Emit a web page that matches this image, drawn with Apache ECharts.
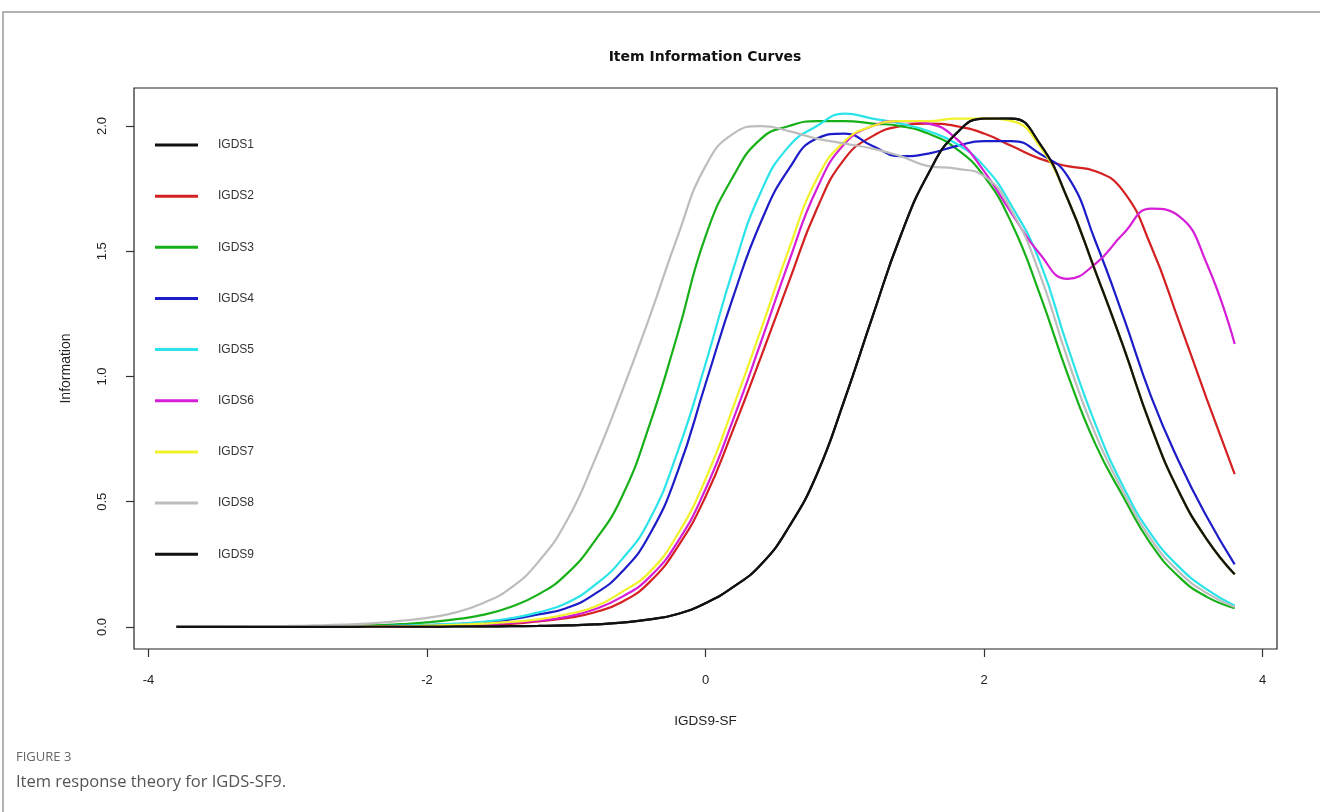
<!DOCTYPE html>
<html>
<head>
<meta charset="utf-8">
<script src="https://cdn.jsdelivr.net/npm/echarts@6/dist/echarts.min.js"></script>
<style>
html,body{margin:0;padding:0;background:#fff;}
#chart{width:1320px;height:812px;}
</style>
</head>
<body>
<div id="chart"></div>
<script>
// Theta grid (IGDS9-SF latent trait)
const theta = [-3.8,-3.6,-3.4,-3.2,-3.0,-2.8,-2.6,-2.4,-2.2,-2.0,-1.8,-1.6,-1.4,-1.2,-1.0,-0.8,-0.6,-0.4,-0.2,0.0,0.2,0.4,0.6,0.8,1.0,1.2,1.4,1.6,1.8,2.0,2.2,2.4,2.6,2.8,3.0,3.2,3.4,3.6,3.8];

const seriesNames = ["IGDS1","IGDS2","IGDS3","IGDS4","IGDS5","IGDS6","IGDS7","IGDS8","IGDS9"];

const igds1 = [0,0,0,0,0,0,0,0.001,0.001,0.001,0.002,0.002,0.003,0.004,0.006,0.010,0.017,0.030,0.052,0.095,0.16,0.25,0.40,0.61,0.91,1.24,1.56,1.81,1.97,2.03,2.03,1.93,1.71,1.42,1.12,0.80,0.54,0.35,0.21];
const igds2 = [0,0,0,0,0,0.001,0.001,0.001,0.002,0.003,0.005,0.008,0.012,0.022,0.035,0.058,0.10,0.18,0.32,0.52,0.79,1.08,1.38,1.67,1.87,1.96,2.0,2.01,2.0,1.97,1.92,1.87,1.84,1.82,1.74,1.52,1.22,0.91,0.61];
const igds3 = [0,0,0.001,0.001,0.002,0.003,0.004,0.006,0.011,0.018,0.03,0.048,0.08,0.13,0.21,0.34,0.52,0.81,1.17,1.56,1.80,1.95,2.0,2.02,2.02,2.01,2.0,1.97,1.91,1.80,1.61,1.33,1.01,0.73,0.52,0.33,0.20,0.12,0.075];
const igds4 = [0,0,0,0,0.001,0.001,0.002,0.003,0.004,0.007,0.011,0.018,0.03,0.05,0.075,0.13,0.22,0.37,0.62,0.97,1.32,1.62,1.83,1.95,1.97,1.92,1.88,1.89,1.92,1.94,1.94,1.89,1.80,1.54,1.24,0.92,0.66,0.44,0.25];
const igds5 = [0,0,0,0.001,0.001,0.002,0.002,0.003,0.005,0.008,0.013,0.02,0.035,0.058,0.095,0.165,0.27,0.43,0.70,1.05,1.43,1.74,1.92,2.0,2.05,2.03,2.01,1.98,1.93,1.84,1.68,1.46,1.12,0.81,0.56,0.37,0.24,0.15,0.085];
const igds6 = [0,0,0,0,0,0.001,0.001,0.001,0.002,0.004,0.006,0.01,0.016,0.025,0.04,0.07,0.12,0.20,0.34,0.55,0.83,1.14,1.46,1.75,1.93,2.0,2.02,2.01,1.95,1.82,1.65,1.49,1.39,1.45,1.57,1.67,1.64,1.45,1.13];
const igds7 = [0,0,0,0,0,0.001,0.001,0.002,0.003,0.005,0.008,0.013,0.02,0.03,0.05,0.08,0.14,0.22,0.37,0.59,0.88,1.19,1.51,1.79,1.94,2.0,2.02,2.02,2.03,2.03,2.02,1.92,1.71,1.42,1.12,0.80,0.54,0.35,0.21];
const igds8 = [0.001,0.001,0.002,0.003,0.004,0.006,0.009,0.014,0.024,0.036,0.057,0.095,0.155,0.26,0.42,0.66,0.94,1.24,1.56,1.84,1.97,2.0,1.98,1.95,1.93,1.91,1.88,1.84,1.83,1.80,1.66,1.41,1.07,0.77,0.54,0.35,0.22,0.135,0.08];
const igds9 = [0,0,0,0,0,0,0,0.001,0.001,0.001,0.002,0.002,0.003,0.004,0.006,0.010,0.017,0.030,0.052,0.095,0.16,0.25,0.40,0.61,0.91,1.24,1.56,1.81,1.97,2.03,2.03,1.93,1.71,1.42,1.12,0.80,0.54,0.35,0.21];

const xTicks = [-4,-2,0,2,4];
const yTicks = [0,0.5,1,1.5,2];

const allValues = [igds1,igds2,igds3,igds4,igds5,igds6,igds7,igds8,igds9];
const colors = ['#111111','#d42020','#18b018','#1c1cc8','#2ae4ea','#d61ed6','#f2f22a','#bdbdbd','#111111'];

const chart = echarts.init(document.getElementById('chart'), null, {renderer:'canvas'});

const series = allValues.map((vals, i) => ({
  name: seriesNames[i],
  type: 'line',
  data: theta.map((t, j) => [t, vals[j]]),
  showSymbol: false,
  smooth: 0.5,
  color: colors[i],
  lineStyle: {width: 2.2, color: colors[i]},
  z: 2 + i
}));

const option = {
  animation: false,
  backgroundColor: '#fff',
  grid: {left: 134, right: 43, top: 88, bottom: 163, show: true, borderColor: '#222', borderWidth: 1.2, containLabel: false},
  xAxis: {
    type: 'value', min: -4.104, max: 4.104,
    name: 'IGDS9-SF', nameLocation: 'middle', nameGap: 65,
    nameTextStyle: {fontFamily: 'Liberation Sans', fontSize: 13.5, color: '#222'},
    axisLine: {show: false, onZero: false},
    axisTick: {show: true, length: 8, inside: false, customValues: xTicks, lineStyle: {color: '#333', width: 1.2}},
    axisLabel: {customValues: xTicks, margin: 25, fontFamily: 'Liberation Sans', fontSize: 13, color: '#222', formatter: v => String(v)},
    splitLine: {show: false}
  },
  yAxis: {
    type: 'value', min: -0.088, max: 2.152,
    name: 'Information', nameLocation: 'middle', nameGap: 61, nameRotate: 90,
    nameTextStyle: {fontFamily: 'Liberation Sans', fontSize: 14, color: '#222'},
    axisLine: {show: false, onZero: false},
    axisTick: {show: true, length: 8, inside: false, customValues: yTicks, lineStyle: {color: '#333', width: 1.2}},
    axisLabel: {customValues: yTicks, rotate: 90, margin: 25, fontFamily: 'Liberation Sans', fontSize: 13, color: '#222', formatter: v => v.toFixed(1)},
    splitLine: {show: false}
  },
  legend: {
    orient: 'vertical', left: 155, top: 138, padding: 0, itemGap: 37.15,
    itemWidth: 43, itemHeight: 3, icon: 'rect',
    textStyle: {fontFamily: 'Liberation Sans', fontSize: 12, color: '#333', lineHeight: 14, padding: [0,0,0,15]},
    data: seriesNames
  },
  graphic: [
    {type: 'rect', silent: true, z: -10, shape: {x: 3, y: 12, width: 1330, height: 820}, style: {fill: 'none', stroke: '#9a9a9a', lineWidth: 1.5}},
    {type: 'text', silent: true, style: {x: 705, y: 57, text: 'Item Information Curves', font: 'bold 14px "DejaVu Sans"', fill: '#111', textAlign: 'center', textVerticalAlign: 'middle'}},
    {type: 'text', silent: true, style: {x: 16, y: 757, text: 'FIGURE 3', font: '13px "Open Sans"', fill: '#666', textAlign: 'left', textVerticalAlign: 'middle'}},
    {type: 'text', silent: true, style: {x: 16, y: 782, text: 'Item response theory for IGDS-SF9.', font: '16.5px "Open Sans"', fill: '#555', textAlign: 'left', textVerticalAlign: 'middle'}}
  ],
  series: series
};
chart.setOption(option);
</script>
</body>
</html>
